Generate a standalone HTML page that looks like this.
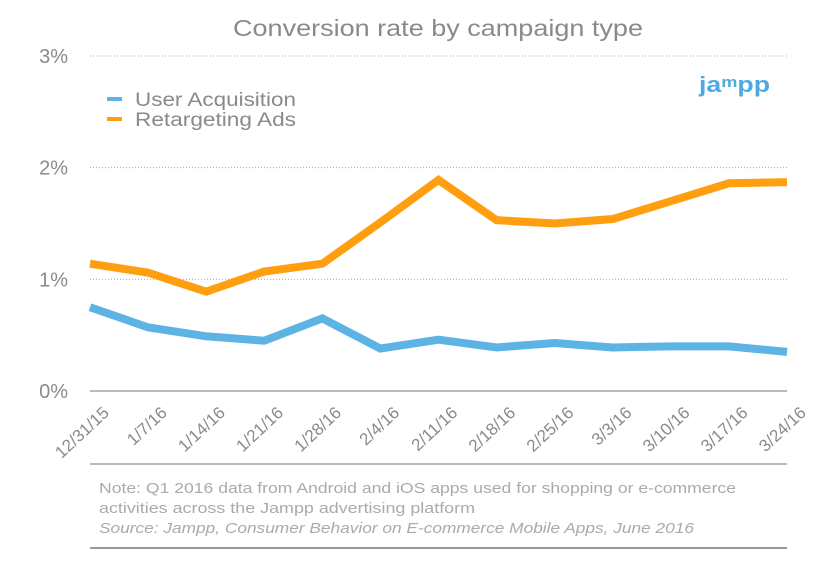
<!DOCTYPE html>
<html><head><meta charset="utf-8"><style>
body{margin:0;background:#fff;}
svg text{font-family:"Liberation Sans",sans-serif;}
</style></head><body>
<svg id="chart" width="825" height="580" xmlns="http://www.w3.org/2000/svg">
<text x="233" y="36" font-size="23" fill="#8a8a8a" textLength="410" lengthAdjust="spacingAndGlyphs">Conversion rate by campaign type</text>
<g id="grid"></g>
<g id="xlabels"></g>
<g id="series"></g>
<g>
<line x1="107" y1="99" x2="122" y2="99" stroke="#5db3e4" stroke-width="4"/>
<text x="135" y="106" font-size="19" fill="#8a8a8a" textLength="161" lengthAdjust="spacingAndGlyphs">User Acquisition</text>
<line x1="107" y1="119" x2="122" y2="119" stroke="#ff9f0f" stroke-width="4"/>
<text x="135" y="126" font-size="19" fill="#8a8a8a" textLength="161" lengthAdjust="spacingAndGlyphs">Retargeting Ads</text>
</g>
<text x="699" y="92" font-size="22" font-weight="bold" fill="#4ea9e2" textLength="71" lengthAdjust="spacingAndGlyphs">ja<tspan font-size="15" dy="-5">m</tspan><tspan dy="5">pp</tspan></text>
<line x1="90" y1="464" x2="787" y2="464" stroke="#bbb" stroke-width="2"/>
<text x="99" y="493" font-size="15" fill="#aaa" textLength="637" lengthAdjust="spacingAndGlyphs">Note: Q1 2016 data from Android and iOS apps used for shopping or e-commerce</text>
<text x="99" y="513" font-size="15" fill="#aaa" textLength="376" lengthAdjust="spacingAndGlyphs">activities across the Jampp advertising platform</text>
<text x="99" y="533" font-size="15" font-style="italic" fill="#aaa" textLength="595" lengthAdjust="spacingAndGlyphs">Source: Jampp, Consumer Behavior on E-commerce Mobile Apps, June 2016</text>
<line x1="90" y1="548" x2="787" y2="548" stroke="#999" stroke-width="2"/>
</svg>
<script>
const categories=["12/31/15","1/7/16","1/14/16","1/21/16","1/28/16","2/4/16","2/11/16","2/18/16","2/25/16","3/3/16","3/10/16","3/17/16","3/24/16"];
const userAcquisition=[0.75,0.57,0.49,0.45,0.65,0.38,0.46,0.39,0.43,0.39,0.40,0.40,0.35];
const retargetingAds=[1.14,1.06,0.89,1.07,1.14,1.51,1.89,1.53,1.50,1.54,1.70,1.86,1.87];
const yTicks=[0,1,2,3];
const yTickLabels=["0%","1%","2%","3%"];
const NS="http://www.w3.org/2000/svg";
const x0=90,x1=787,yBase=391,yTop=56;
const xs=i=>x0+i*(x1-x0)/(categories.length-1);
const ys=v=>yBase-v*(yBase-yTop)/3;
function mk(t,a,p){const e=document.createElementNS(NS,t);for(const k in a)e.setAttribute(k,a[k]);p.appendChild(e);return e;}
const grid=document.getElementById('grid');
yTicks.forEach((t,i)=>{
  const l=mk('line',{x1:x0,x2:x1,y1:ys(t),y2:ys(t),stroke:t===0?'#bbb':'#aaa','stroke-width':t===0?2:1,'stroke-dasharray':t===0?'none':'1,2'},grid);
  
  
  const tx=mk('text',{x:68,y:ys(t)+7,'text-anchor':'end','font-size':20,fill:'#8a8a8a'},grid);
  tx.textContent=yTickLabels[i];
  
  
});
const xl=document.getElementById('xlabels');
categories.forEach((c,i)=>{
  const x=xs(i)+20,y=414;
  const tx=mk('text',{x:x,y:y,'text-anchor':'end','font-size':17,fill:'#8a8a8a',transform:`rotate(-43 ${x} ${y})`},xl);
  tx.textContent=c;
  
  
});
const sg=document.getElementById('series');
[[userAcquisition,'#5db3e4','user-acquisition-line'],[retargetingAds,'#ff9f0f','retargeting-ads-line']].forEach(([d,col,n])=>{
  const p=mk('polyline',{points:d.map((v,i)=>xs(i)+','+ys(v)).join(' '),fill:'none',stroke:col,'stroke-width':8,'stroke-linejoin':'miter'},sg);
  
  
});
</script>
</body></html>
